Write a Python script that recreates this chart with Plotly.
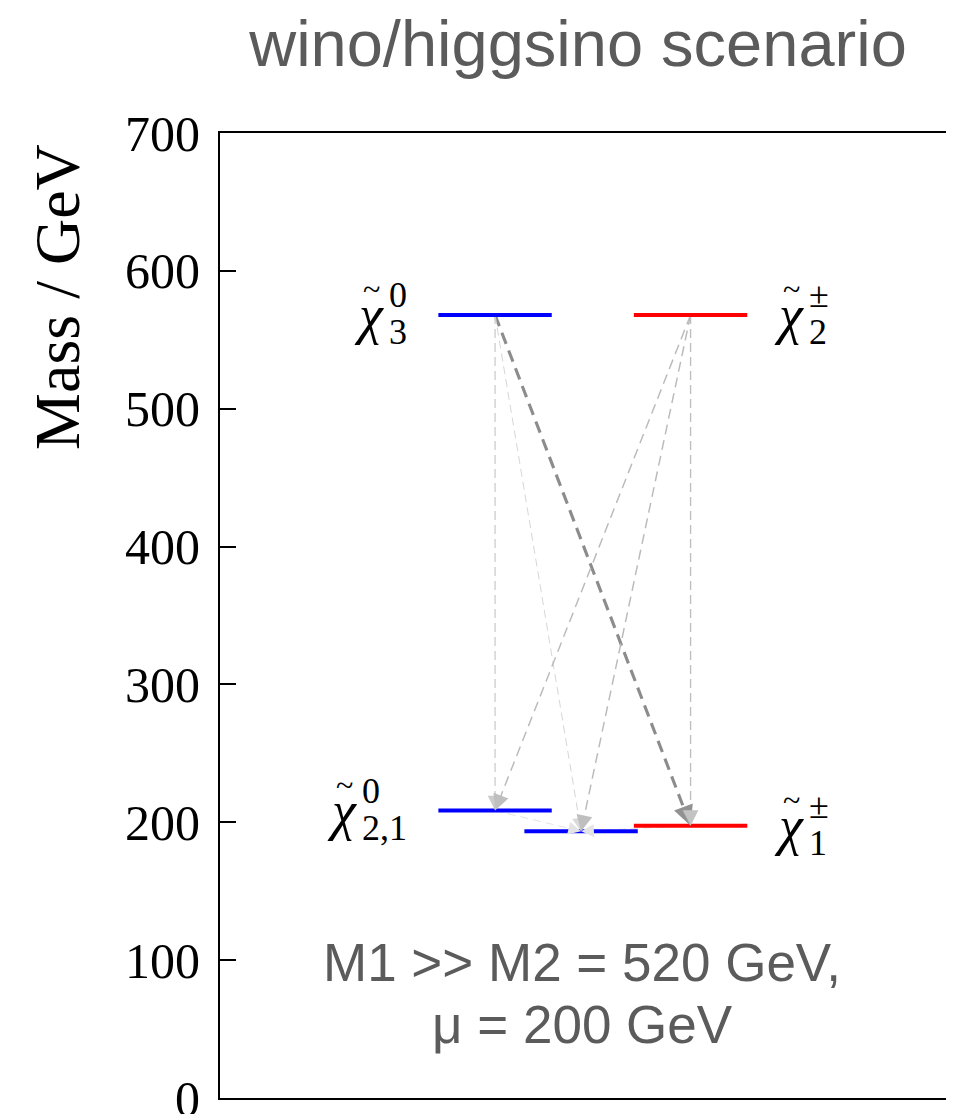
import math
import plotly.graph_objects as go

# ---------------- data ----------------
level_names = ["chi3_0", "chi2_0", "chi1_0", "chi2_pm", "chi1_pm"]
level_mass = [568.0, 208.5, 193.5, 568.0, 197.5]
level_xpos = [1.0, 1.0, 1.44, 2.0, 2.0]
level_color = ["#0000ff", "#0000ff", "#0000ff", "#ff0000", "#ff0000"]

label_level = ["chi3_0", "chi2_0", "chi2_pm", "chi1_pm"]
label_sup = ["0", "0", "±", "±"]
label_sub = ["3", "2,1", "2", "1"]
label_side = ["left", "left", "right", "right"]

decay_from = ["chi3_0", "chi3_0", "chi3_0", "chi2_pm", "chi2_pm", "chi2_pm", "chi2_0", "chi1_pm"]
decay_to = ["chi1_pm", "chi2_0", "chi1_0", "chi2_0", "chi1_0", "chi1_pm", "chi1_0", "chi1_0"]
decay_strength = [1.0, 0.35, 0.2, 0.5, 0.5, 0.45, 0.1, 0.1]

y_ticks = [0, 100, 200, 300, 400, 500, 600, 700]
y_ticktext = ["0", "100", "200", "300", "400", "500", "600", "700"]

title_text = "wino/higgsino scenario"
note_lines = ["M1 >> M2 = 520 GeV,", "μ = 200 GeV"]
y_title = "Mass / GeV"

# ---------------- layout constants ----------------
OFF = 8                      # page body margin
W, H = 954, 1106             # figure size
ML, MR, MT, MB = 212, 0, 125, 15.5
LEVEL_HALF = 0.29
PW = W - ML - MR
PH = H - MT - MB
XPX = 195.5                  # pixels per x unit
XR = [-0.407, -0.407 + PW / XPX]
YR = [0, 700]
YPX = PH / (YR[1] - YR[0])


def paper_x(px):
    return (px - OFF - ML) / PW


def paper_y(py):
    return (H + OFF - MB - py) / PH


idx = {n: i for i, n in enumerate(level_names)}

fig = go.Figure()
annotations = []

# decay lines (dashed) + arrowheads
for f, t, s in zip(decay_from, decay_to, decay_strength):
    i, j = idx[f], idx[t]
    x0, y0 = level_xpos[i], level_mass[i]
    x1, y1 = level_xpos[j], level_mass[j]
    g = int(232 - 92 * s)
    col = f"rgb({g},{g},{g})"
    w = 0.9 + 2.2 * s * s
    dash = f"{int(8 + 4 * s)}px,{int(5 + 2 * s)}px"
    fig.add_trace(go.Scatter(x=[x0, x1], y=[y0, y1], mode="lines",
                             line=dict(color=col, width=w, dash=dash),
                             hoverinfo="skip", showlegend=False))
    dxp = (x1 - x0) * XPX
    dyp = (y1 - y0) * YPX
    L = math.hypot(dxp, dyp)
    frac = 14.0 / L
    ax = x1 - (x1 - x0) * frac
    ay = y1 - (y1 - y0) * frac
    hg = int(236 - 90 * s)
    aw = max(w, 1.2)
    annotations.append(dict(x=x1, y=y1, ax=ax, ay=ay, xref="x", yref="y",
                            axref="x", ayref="y", text="", showarrow=True,
                            arrowhead=2, arrowsize=(2.4 + 1.6 * s) / aw, arrowwidth=aw,
                            arrowcolor=f"rgb({hg},{hg},{hg})", standoff=0))

# mass levels
for n, m, c, col in zip(level_names, level_mass, level_xpos, level_color):
    fig.add_trace(go.Scatter(x=[c - LEVEL_HALF, c + LEVEL_HALF], y=[m, m],
                             mode="lines", line=dict(color=col, width=4),
                             hoverinfo="skip", showlegend=False, name=n))

# labels: chi, tilde, superscript, subscript as separate text pieces
SCRIPT_SIZE = 36
CHI_SIZE = 54
TILDE_SIZE = 32
char_w = {"±": 0.564, ",": 0.25}
SERIF = "Liberation Serif"


def text_w(s):
    return sum(char_w.get(ch, 0.5) for ch in s) * SCRIPT_SIZE


for lv, sup, sub, side in zip(label_level, label_sup, label_sub, label_side):
    i = idx[lv]
    m = level_mass[i]
    if side == "left":
        xa = level_xpos[i] - LEVEL_HALF
        p = -33 - max(text_w(sup), text_w(sub))
    else:
        xa = level_xpos[i] + LEVEL_HALF
        p = 60
    annotations.append(dict(x=xa, y=m, xref="x", yref="y", text="<i>χ</i>",
                            showarrow=False, xanchor="right", yanchor="middle",
                            xshift=p - 1, yshift=0,
                            font=dict(family=SERIF, size=CHI_SIZE, color="black")))
    annotations.append(dict(x=xa, y=m, xref="x", yref="y", text="~",
                            showarrow=False, xanchor="center", yanchor="middle",
                            xshift=p - 16, yshift=26,
                            font=dict(family=SERIF, size=TILDE_SIZE, color="black")))
    annotations.append(dict(x=xa, y=m, xref="x", yref="y", text=sup,
                            showarrow=False, xanchor="left", yanchor="middle",
                            xshift=p, yshift=20,
                            font=dict(family=SERIF, size=SCRIPT_SIZE, color="black")))
    annotations.append(dict(x=xa, y=m, xref="x", yref="y", text=sub,
                            showarrow=False, xanchor="left", yanchor="middle",
                            xshift=p, yshift=-17,
                            font=dict(family=SERIF, size=SCRIPT_SIZE, color="black")))

# y-axis title
annotations.append(dict(x=paper_x(58), y=paper_y(297),
                        xref="paper", yref="paper", text=y_title, textangle=-90,
                        showarrow=False, xanchor="center", yanchor="middle",
                        font=dict(family=SERIF, size=64, color="black")))

# parameter note (two lines)
for line, py in zip(note_lines, [963, 1025]):
    annotations.append(dict(x=paper_x(582), y=paper_y(py),
                            xref="paper", yref="paper", text=line,
                            showarrow=False, xanchor="center", yanchor="middle",
                            font=dict(family="Liberation Sans", size=53, color="#5b5b5b")))

fig.update_layout(
    width=W, height=H,
    margin=dict(l=ML, r=MR, t=MT, b=MB, autoexpand=False),
    paper_bgcolor="white", plot_bgcolor="white",
    title=dict(text=title_text, x=paper_x(578), xref="paper",
               xanchor="center", y=1 - (43 - OFF) / H, yref="container", yanchor="middle",
               font=dict(family="Liberation Sans", size=65, color="#5b5b5b")),
    xaxis=dict(range=XR, showline=True, mirror=True, linecolor="black", linewidth=2,
               showticklabels=False, ticks="", showgrid=False, zeroline=False,
               automargin=False),
    yaxis=dict(range=YR, tickvals=y_ticks, ticktext=y_ticktext,
               ticks="inside", ticklen=16, tickwidth=2, tickcolor="black",
               showline=True, linecolor="black", linewidth=2,
               showgrid=False, zeroline=False, automargin=False,
               ticklabelstandoff=8, ticklabeloverflow="allow",
               tickfont=dict(family=SERIF, size=50, color="black")),
    annotations=annotations,
    showlegend=False,
)

fig.write_html("out.html")
